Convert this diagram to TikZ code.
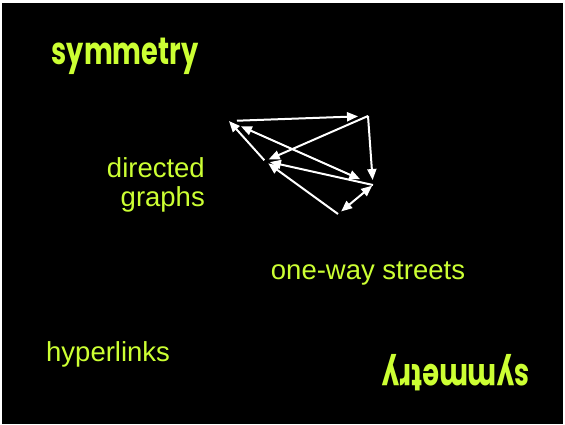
\documentclass[tikz,border=0pt]{standalone}
\usepackage{fontspec}
\setmainfont{Liberation Sans}
\newfontfamily\fancyfont{Poppins}[UprightFont=* Bold]
\usetikzlibrary{arrows.meta}
\definecolor{lime}{RGB}{204,255,51}
\begin{document}
\begin{tikzpicture}[x=1pt,y=-1pt,
  lbl/.style={text=lime,font=\fontsize{27.5}{30}\selectfont,inner sep=0pt},
  title/.style={text=lime,font=\fancyfont\fontsize{34}{36}\selectfont,inner sep=0pt},
  edge/.style={draw=white,line width=2pt,-{Triangle[length=11pt,width=9pt]}},
  bedge/.style={draw=white,line width=2pt,{Triangle[length=11pt,width=9pt]}-{Triangle[length=11pt,width=9pt]}}]
\useasboundingbox (0,0) rectangle (565,424);
\fill[white] (0,0) rectangle (565,424);
\fill[black] (2,3) rectangle (563,424);
% titles
\node[title,xscale=0.8,yscale=1.12,transform shape] (t1) at (125,56) {symmetry};
\node[title,rotate=180,xscale=0.8,yscale=1.12,transform shape] (t2) at (456,373) {symmetry};
% labels
\node[lbl,anchor=east] (dir) at (205,168) {directed};
\node[lbl,anchor=east] (gra) at (205,199) {graphs};
\node[lbl] (one) at (368,273) {one-way streets};
\node[lbl,anchor=west] (hyp) at (46,354) {hyperlinks};
% graph
\coordinate (A) at (229,121);
\coordinate (B) at (368,116);
\coordinate (C) at (265,161);
\coordinate (D) at (373,185);
\coordinate (E) at (338,214);
\draw[edge,shorten <=8pt,shorten >=10pt] (A) -- (B);
\draw[edge,shorten >=5pt] (B) -- (D);
\draw[edge,shorten >=4pt] (B) -- (C);
\draw[bedge,shorten <=13pt,shorten >=14pt] (A) -- (D);
\draw[edge,shorten >=5pt] (D) -- (C);
\draw[bedge,shorten <=1pt,shorten >=4pt] (D) -- (E);
\draw[edge,shorten >=4pt] (E) -- (C);
\draw[edge,shorten <=1pt] (C) -- (A);
\end{tikzpicture}
\end{document}
